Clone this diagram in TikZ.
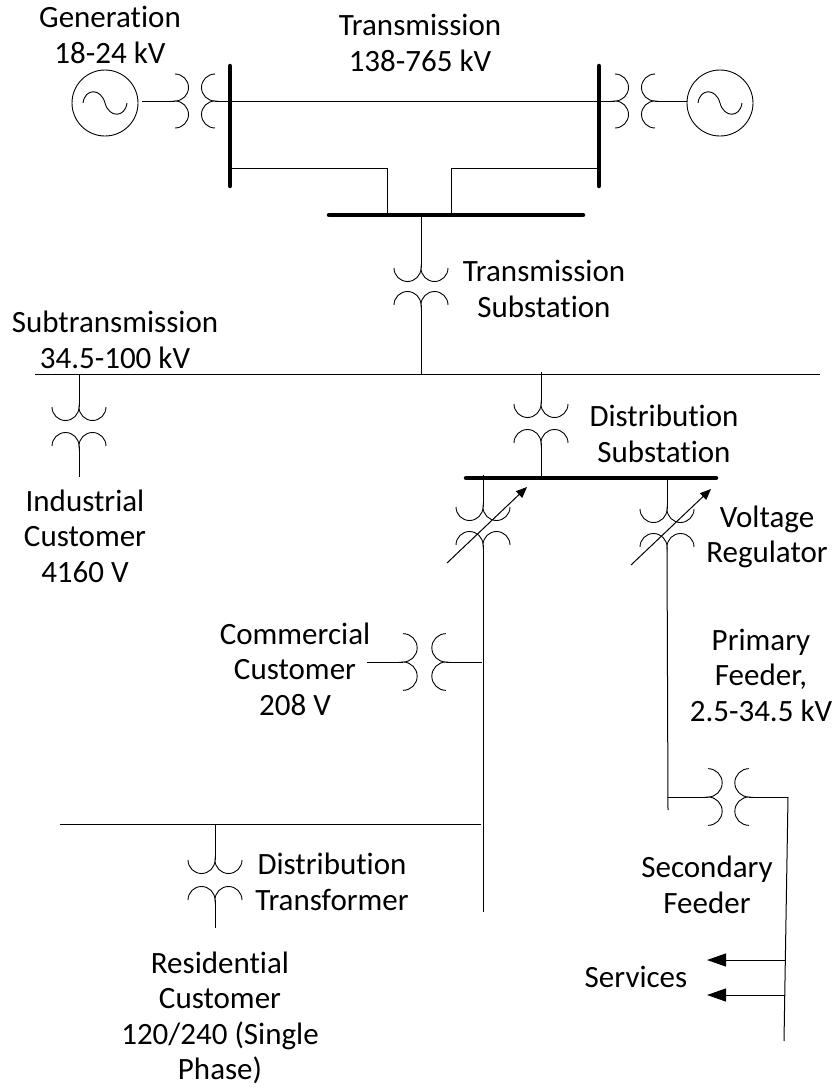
\documentclass[tikz,border=0pt]{standalone}
\usepackage{fontspec}
\setmainfont[Ligatures=NoCommon]{Carlito}
\usetikzlibrary{arrows.meta, positioning, calc}
\tikzset{
	wire/.style={line width=1pt, black},
	bus/.style={line width=4.5pt, line cap=round, black},
	lbl/.style={align=center, inner sep=0pt, font=\fontsize{31}{35.5}\selectfont},
	gen/.style={circle, draw=black, line width=0.9pt, minimum size=66pt, inner sep=0pt,
		path picture={\draw[line width=0.9pt, shift={(path picture bounding box.center)}] (-22,0) .. controls (-20,-15) and (-4,-15) .. (0,0) .. controls (4,15) and (20,15) .. (22,0);}},
	regarrow/.style={-{Triangle[length=11pt,width=9pt]}, wire},
	svcarrow/.style={-{Triangle[length=19pt,width=13pt]}, wire},
	coil/.pic={
		\draw[line width=0.9pt] (-27,0) arc[start angle=180, end angle=0, x radius=13.5, y radius=13.5]
			arc[start angle=180, end angle=0, x radius=13.5, y radius=13.5];
	},
}
\begin{document}
\begin{tikzpicture}[x=1pt, y=-1pt]
	\useasboundingbox (0,0) rectangle (833,1087);
	% generators and top buses
	\node[gen] (genL) at (105,103) {};
	\node[gen] (genR) at (720,103) {};
	\coordinate (genLtap) at (142,101);
	\coordinate (xgLa) at (175,101);
	\coordinate (xgLb) at (215,101);
	\coordinate (xgRa) at (615,101);
	\coordinate (xgRb) at (655,101);
	\coordinate (busLa) at (230,66);
	\coordinate (busLb) at (230,186);
	\coordinate (busRa) at (599,66);
	\coordinate (busRb) at (599,186);
	\coordinate (busTa) at (329,215);
	\coordinate (busTb) at (583,215);
	\draw[bus] (busLa) -- (busLb);
	\draw[bus] (busRa) -- (busRb);
	\draw[bus] (busTa) -- (busTb);
	\pic[rotate=90] at (xgLa) {coil};
	\pic[rotate=-90] at (xgLb) {coil};
	\pic[rotate=90] at (xgRa) {coil};
	\pic[rotate=-90] at (xgRb) {coil};
	\draw[wire] (genLtap) -- (xgLa);
	\draw[wire] (xgLb) -- (xgRa);
	\draw[wire] (xgRb) -- (xgRb -| genR.west);
	\coordinate (tieL) at (387,215);
	\coordinate (tieR) at (451,215);
	\draw[wire] (busLb |- 0,168) -- (tieL |- 0,168) -- (tieL);
	\draw[wire] (busRb |- 0,168) -- (tieR |- 0,168) -- (tieR);
	% transmission substation and subtransmission line
	\coordinate (subA) at (35,374);
	\coordinate (subB) at (820,374);
	\draw[wire] (subA) -- (subB);
	\coordinate (tsTop) at (421,215);
	\coordinate (tsU) at (421,268);
	\coordinate (tsD) at (421,305);
	\coordinate (tsEnd) at (421,374);
	\pic at (tsU) {coil};
	\pic[rotate=180] at (tsD) {coil};
	\draw[wire] (tsTop) -- (tsU);
	\draw[wire] (tsD) -- (tsEnd);
	% industrial customer
	\coordinate (inTop) at (79,374);
	\coordinate (inU) at (79,407);
	\coordinate (inD) at (79,446);
	\coordinate (inEnd) at (79,477);
	\pic at (inU) {coil};
	\pic[rotate=180] at (inD) {coil};
	\draw[wire] (inTop) -- (inU);
	\draw[wire] (inD) -- (inEnd);
	% distribution substation
	\coordinate (dsTop) at (541,372);
	\coordinate (dsU) at (541,404);
	\coordinate (dsD) at (541,443);
	\coordinate (dsEnd) at (541,476);
	\pic at (dsU) {coil};
	\pic[rotate=180] at (dsD) {coil};
	\draw[wire] (dsTop) -- (dsU);
	\draw[wire] (dsD) -- (dsEnd);
	\coordinate (busDa) at (466,478);
	\coordinate (busDb) at (716,478);
	\draw[bus] (busDa) -- (busDb);
	% voltage regulators
	\coordinate (rgLtop) at (483,475);
	\coordinate (rgLu) at (483,507);
	\coordinate (rgLd) at (483,545);
	\coordinate (rgLend) at (483,912);
	\coordinate (rgRtop) at (667,478);
	\coordinate (rgRu) at (667,509);
	\coordinate (rgRd) at (667,547);
	\coordinate (rgRend) at (668,810);
	\foreach \n in {rgL,rgR} {
		\pic at (\n u) {coil};
		\pic[rotate=180] at (\n d) {coil};
		\draw[wire] (\n top) -- (\n u);
		\draw[wire] (\n d) -- (\n end);
	}
	\coordinate (arLa) at (447,563);
	\coordinate (arLb) at (527,487);
	\coordinate (arRa) at (631,565);
	\coordinate (arRb) at (711,489);
	\draw[regarrow] (arLa) -- (arLb);
	\draw[regarrow] (arRa) -- (arRb);
	% commercial customer
	\coordinate (cmStart) at (367,662);
	\coordinate (cmA) at (403,662);
	\coordinate (cmB) at (446,662);
	\coordinate (cmEnd) at (482,662);
	\pic[rotate=90, scale=1.05] at (cmA) {coil};
	\pic[rotate=-90, scale=1.05] at (cmB) {coil};
	\draw[wire] (cmStart) -- (cmA);
	\draw[wire] (cmB) -- (cmEnd);
	% secondary feeder and services
	\coordinate (sfTap) at (668,797);
	\coordinate (sfA) at (708,797);
	\coordinate (sfB) at (749,797);
	\coordinate (sfEnd) at (788,797);
	\coordinate (sfLow) at (784,1041);
	\pic[rotate=90, scale=1.05] at (sfA) {coil};
	\pic[rotate=-90, scale=1.05] at (sfB) {coil};
	\draw[wire] (sfTap) -- (sfA);
	\draw[wire] (sfB) -- (sfEnd);
	\draw[wire] (sfEnd) -- (sfLow);
	\coordinate (svA) at (785,960);
	\coordinate (svAe) at (707,960);
	\coordinate (svB) at (785,995);
	\coordinate (svBe) at (707,995);
	\draw[svcarrow] (svA) -- (svAe);
	\draw[svcarrow] (svB) -- (svBe);
	% residential customer
	\coordinate (rsA) at (60,824);
	\coordinate (rsB) at (481,824);
	\draw[wire] (rsA) -- (rsB);
	\coordinate (rsTop) at (215,824);
	\coordinate (rsU) at (215,860);
	\coordinate (rsD) at (215,900);
	\coordinate (rsEnd) at (215,928);
	\pic at (rsU) {coil};
	\pic[rotate=180] at (rsD) {coil};
	\draw[wire] (rsTop) -- (rsU);
	\draw[wire] (rsD) -- (rsEnd);
	% labels
	\node[lbl] (lgen) at (110,35) {Generation\\18-24 kV};
	\node[lbl] (ltrans) at (420,43) {Transmission\\138-765 kV};
	\node[lbl] (ltsub) at (544,289) {Transmission\\Substation};
	\node[lbl] (lsubt) at (115,340) {Subtransmission\\34.5-100 kV};
	\node[lbl] (lind) at (85,536) {Industrial\\Customer\\4160 V};
	\node[lbl] (ldsub) at (664,434) {Distribution\\Substation};
	\node[lbl] (lreg) at (767,537) {Voltage\\Regulator};
	\node[lbl] (lcom) at (295,669) {Commercial\\Customer\\208 V};
	\node[lbl] (lprim) at (761,675) {Primary\\Feeder,\\2.5-34.5 kV};
	\node[lbl] (lsec) at (707,885) {Secondary\\Feeder};
	\node[lbl] (lsvc) at (636,977) {Services};
	\node[lbl] (ldtr) at (332,882) {Distribution\\Transformer};
	\node[lbl] (lres) at (220,1018) {Residential\\Customer\\120/240 (Single\\Phase)};
\end{tikzpicture}
\end{document}
